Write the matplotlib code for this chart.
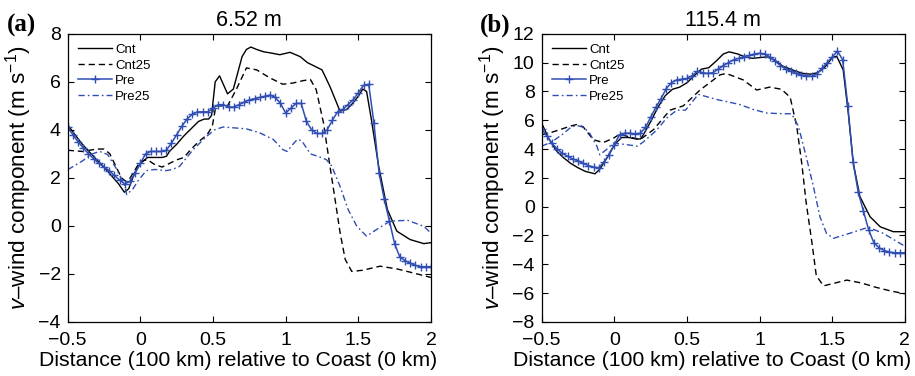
import numpy as np
import matplotlib
matplotlib.use("Agg")
import matplotlib.pyplot as plt
from matplotlib.ticker import FuncFormatter

plt.rcParams['font.family'] = ['Liberation Sans', 'DejaVu Sans']
plt.rcParams['mathtext.fontset'] = 'custom'
plt.rcParams['mathtext.rm'] = 'Liberation Sans'
plt.rcParams['mathtext.it'] = 'Liberation Sans:italic'

# distance grid of the model output (100 km units), shared by the "Pre" runs
x_grid = np.linspace(-0.5, 2.0, 71)

# ---- panel (a): 6.52 m ----
a_pre = [4.10, 3.80, 3.50, 3.25, 3.00, 2.80, 2.60, 2.45, 2.30, 2.10,
         1.90, 1.75, 1.85, 2.20, 2.60, 3.00, 3.10, 3.10, 3.10, 3.15,
         3.45, 3.80, 4.15, 4.45, 4.65, 4.75, 4.75, 4.75, 4.90, 5.05,
         5.05, 4.95, 4.95, 5.05, 5.15, 5.25, 5.30, 5.35, 5.40, 5.45,
         5.35, 5.10, 4.70, 4.90, 5.10, 5.10, 4.35, 4.00, 3.85, 3.85,
         4.00, 4.40, 4.75, 4.85, 5.05, 5.25, 5.55, 5.85, 5.90, 4.30,
         2.20, 1.10, 0.20, -0.75, -1.30, -1.45, -1.55, -1.65, -1.70, -1.70,
         -1.70]

a_cnt_x = [-0.5, -0.4, -0.3, -0.25, -0.2, -0.15, -0.11, -0.08, -0.04, 0.0,
           0.05, 0.1, 0.15, 0.18, 0.2, 0.25, 0.3, 0.35, 0.4, 0.44,
           0.47, 0.49, 0.515, 0.545, 0.6, 0.64, 0.7, 0.73, 0.76, 0.8,
           0.85, 0.9, 0.96, 1.03, 1.1, 1.15, 1.2, 1.25, 1.305, 1.374,
           1.42, 1.46, 1.5, 1.53, 1.557, 1.59, 1.64, 1.70, 1.765, 1.856,
           1.95, 2.0]
a_cnt = [4.2, 3.4, 2.75, 2.45, 2.1, 1.75, 1.4, 1.55, 2.2, 2.6,
         2.85, 2.85, 2.85, 2.9, 3.1, 3.4, 3.75, 4.05, 4.35, 4.45,
         4.45, 4.6, 6.0, 6.25, 5.5, 5.7, 7.05, 7.35, 7.45, 7.35,
         7.25, 7.2, 7.13, 7.23, 7.05, 6.8, 6.65, 6.5, 5.8, 4.78,
         4.85, 5.1, 5.4, 5.7, 5.6, 4.43, 2.48, 0.68, -0.22, -0.57,
         -0.74, -0.7]

a_cnt25_x = [-0.5, -0.4, -0.3, -0.25, -0.21, -0.17, -0.13, -0.1, -0.07, -0.03,
             0.0, 0.05, 0.1, 0.15, 0.2, 0.25, 0.3, 0.35, 0.4, 0.46,
             0.495, 0.52, 0.6, 0.66, 0.73, 0.8, 0.89, 0.98, 1.05, 1.12,
             1.17, 1.21, 1.26, 1.305, 1.34, 1.375, 1.41, 1.455, 1.53, 1.65,
             1.77, 1.87, 2.0]
a_cnt25 = [3.15, 3.1, 3.2, 3.2, 3.0, 2.5, 2.0, 1.85, 2.0, 2.4,
           2.7, 2.75, 2.55, 2.45, 2.6, 2.75, 2.85, 3.2, 3.5, 3.8,
           4.15, 5.0, 5.0, 5.68, 6.58, 6.5, 6.17, 5.9, 5.95, 6.05,
           6.1, 5.68, 4.3, 2.48, 1.1, -0.3, -1.4, -1.9, -1.85, -1.68,
           -1.8, -1.95, -2.15]

a_pre25_x = [-0.5, -0.477, -0.4, -0.33, -0.28, -0.225, -0.167, -0.11, -0.094, -0.05,
             -0.018, 0.04, 0.1, 0.177, 0.22, 0.27, 0.364, 0.456, 0.51, 0.57,
             0.65, 0.73, 0.82, 0.915, 0.98, 1.01, 1.05, 1.08, 1.11, 1.17,
             1.22, 1.28, 1.316, 1.374, 1.43, 1.49, 1.557, 1.626, 1.72, 1.84,
             1.95, 2.0]
a_pre25 = [2.35, 2.42, 2.7, 3.0, 3.1, 2.97, 2.4, 1.72, 1.3, 1.55,
           1.86, 2.3, 2.35, 2.3, 2.35, 2.48, 3.18, 3.73, 4.0, 4.12,
           4.08, 4.04, 3.88, 3.6, 3.18, 3.1, 3.4, 3.6, 3.55, 3.0,
           2.9, 2.76, 2.5, 1.65, 0.68, -0.02, -0.43, -0.15, 0.2, 0.23,
           -0.02, -0.3]

# ---- panel (b): 115.4 m ----
b_pre = [5.40, 4.90, 4.40, 4.00, 3.70, 3.50, 3.30, 3.20, 3.00, 2.85,
         2.75, 2.70, 3.10, 3.60, 4.30, 5.00, 5.10, 5.10, 5.05, 5.10,
         5.50, 6.20, 6.90, 7.50, 8.20, 8.60, 8.80, 8.85, 8.90, 9.10,
         9.40, 9.30, 9.25, 9.30, 9.55, 9.80, 10.00, 10.20, 10.30, 10.40,
         10.50, 10.60, 10.65, 10.60, 10.40, 10.10, 9.80, 9.55, 9.40, 9.25,
         9.15, 9.10, 9.05, 9.20, 9.60, 10.00, 10.40, 10.80, 10.20, 7.00,
         3.10, 1.00, -0.30, -1.60, -2.50, -2.85, -3.05, -3.15, -3.20, -3.20,
         -3.20]

b_cnt_x = [-0.5, -0.45, -0.4, -0.35, -0.3, -0.25, -0.2, -0.133, -0.1, -0.05,
           0.0, 0.05, 0.1, 0.15, 0.18, 0.2, 0.25, 0.3, 0.35, 0.4,
           0.45, 0.5, 0.55, 0.6, 0.65, 0.7, 0.75, 0.79, 0.85, 0.9,
           0.95, 1.0, 1.05, 1.1, 1.16, 1.2, 1.25, 1.3, 1.35, 1.4,
           1.45, 1.5, 1.53, 1.575, 1.61, 1.645, 1.69, 1.76, 1.83, 1.92,
           2.0]
b_cnt = [5.8, 4.7, 3.9, 3.4, 3.0, 2.7, 2.45, 2.28, 2.6, 3.4,
         4.3, 4.8, 4.8, 4.7, 4.7, 5.0, 5.9, 6.9, 7.7, 8.15,
         8.3, 8.6, 9.1, 9.55, 9.65, 10.1, 10.6, 10.75, 10.6, 10.4,
         10.3, 10.35, 10.4, 10.2, 9.75, 9.6, 9.4, 9.25, 9.2, 9.3,
         9.7, 10.35, 10.45, 9.5, 6.5, 3.0, 0.7, -0.7, -1.4, -1.74,
         -1.74]

b_cnt25_x = [-0.5, -0.45, -0.374, -0.3, -0.26, -0.215, -0.145, -0.076, -0.007, 0.04,
             0.1, 0.177, 0.27, 0.383, 0.475, 0.59, 0.727, 0.77, 0.887, 0.98,
             1.07, 1.15, 1.21, 1.255, 1.29, 1.32, 1.36, 1.39, 1.44, 1.5,
             1.6, 1.7, 1.8, 1.9, 2.0]
b_cnt25 = [5.0, 5.1, 5.35, 5.6, 5.7, 5.55, 4.65, 4.45, 4.75, 5.05,
           4.85, 4.65, 5.35, 6.7, 7.0, 8.1, 9.15, 9.25, 8.8, 8.1,
           8.3, 8.15, 7.6, 5.6, 3.0, 0.3, -2.5, -4.8, -5.5, -5.35,
           -5.1, -5.3, -5.6, -5.85, -6.05]

b_pre25_x = [-0.5, -0.43, -0.36, -0.3, -0.26, -0.21, -0.17, -0.12, -0.1, -0.05,
             -0.01, 0.05, 0.16, 0.2, 0.29, 0.36, 0.43, 0.49, 0.578, 0.7,
             0.77, 0.86, 0.956, 1.05, 1.16, 1.22, 1.266, 1.32, 1.37, 1.415,
             1.46, 1.507, 1.62, 1.748, 1.85, 2.0]
b_pre25 = [4.2, 4.5, 5.0, 5.5, 5.65, 5.5, 5.1, 4.2, 3.6, 4.0,
           4.4, 4.35, 4.2, 4.5, 5.3, 6.15, 6.7, 6.7, 7.8, 7.45,
           7.3, 7.1, 6.75, 6.5, 6.45, 6.45, 5.6, 3.5, 1.4, -0.7,
           -1.85, -2.2, -1.85, -1.43, -1.85, -2.75]

panels = [
    dict(ax=[0.074, 0.144, 0.397, 0.766], title='6.52 m', tag='(a)',
         ylim=(-4, 8), pre=a_pre, cnt=(a_cnt_x, a_cnt), cnt25=(a_cnt25_x, a_cnt25),
         pre25=(a_pre25_x, a_pre25)),
    dict(ax=[0.592, 0.144, 0.397, 0.766], title='115.4 m', tag='(b)',
         ylim=(-8, 12), pre=b_pre, cnt=(b_cnt_x, b_cnt), cnt25=(b_cnt25_x, b_cnt25),
         pre25=(b_pre25_x, b_pre25)),
]

blue = '#2f4db3'


def fmt(v, pos):
    return ('%g' % v).replace('-', '\u2212')


fig = plt.figure(figsize=(9.15, 3.76), dpi=100)

for p in panels:
    ax = fig.add_axes(p['ax'])
    ax.plot(p['cnt'][0], p['cnt'][1], '-', color='black', lw=1.0, label='Cnt')
    ax.plot(p['cnt25'][0], p['cnt25'][1], '--', color='black', lw=1.0,
            dashes=(4.5, 2.8), label='Cnt25')
    ax.plot(x_grid, p['pre'], '-', color=blue, lw=1.1, marker='+', ms=5.5,
            mew=1.0, label='Pre')
    ax.plot(p['pre25'][0], p['pre25'][1], '-.', color=blue, lw=1.0,
            dashes=(4.5, 2.2, 1.2, 2.2), label='Pre25')

    ax.set_xlim(-0.5, 2)
    ax.set_ylim(*p['ylim'])
    ax.set_xticks([-0.5, 0, 0.5, 1, 1.5, 2])
    ax.set_yticks(np.arange(p['ylim'][0], p['ylim'][1] + 1, 2))
    ax.xaxis.set_major_formatter(FuncFormatter(fmt))
    ax.yaxis.set_major_formatter(FuncFormatter(fmt))
    ax.tick_params(direction='in', top=True, right=True, length=4, width=0.8,
                   labelsize=14)
    ax.tick_params(axis='x', pad=7)
    ax.tick_params(axis='y', pad=5)
    for s in ax.spines.values():
        s.set_linewidth(0.9)

    ax.set_xlabel('Distance (100 km) relative to Coast (0 km)', fontsize=15.3, labelpad=2)
    ax.xaxis.label.set_x(0.47)
    ax.set_ylabel(r'$v$' + '\u2013wind component (m s$^{-1}$)', fontsize=16.2, labelpad=3)
    ax.set_title(p['title'], fontsize=15.5, pad=6)

    ax.legend(loc='upper left', frameon=False, fontsize=9.5, handlelength=2.6,
              handletextpad=0.25, labelspacing=0.25, borderaxespad=0.45,
              borderpad=0.3)

    fig.text(p['ax'][0] - 0.067, 0.915, p['tag'], fontsize=18, fontweight='bold',
             family='Liberation Serif', ha='left', va='baseline')

fig.savefig('out.png', dpi=100)
